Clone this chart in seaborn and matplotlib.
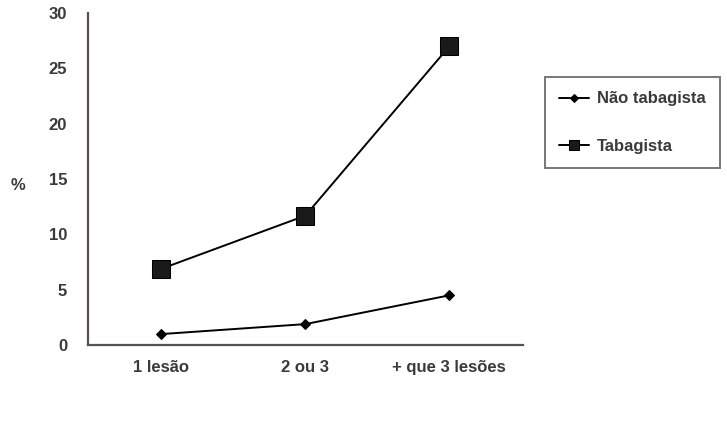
import matplotlib
matplotlib.use("Agg")
import matplotlib.pyplot as plt
import seaborn as sns
import pandas as pd

categories = ["1 lesão", "2 ou 3", "+ que 3 lesões"]
nao_tabagista = [1.0, 1.9, 4.5]
tabagista = [6.9, 11.7, 27.0]
y_ticks = [0, 5, 10, 15, 20, 25, 30]

sns.set_theme(style="white")
plt.rcParams['font.family'] = ['Liberation Sans', 'DejaVu Sans']

df_nt = pd.DataFrame({"x": range(len(categories)), "y": nao_tabagista})
df_t = pd.DataFrame({"x": range(len(categories)), "y": tabagista})

fig = plt.figure(figsize=(7.27, 4.24), dpi=100)
ax = fig.add_axes([0.121, 0.186, 0.598, 0.783])

sns.lineplot(data=df_nt, x="x", y="y", ax=ax, color="black", lw=1.4,
             marker="D", markersize=5, markeredgecolor="black", label="Não tabagista")
sns.lineplot(data=df_t, x="x", y="y", ax=ax, color="black", lw=1.4,
             marker="s", markersize=12.5, markeredgecolor="black", markerfacecolor="#1a1a1a",
             label="Tabagista")

FS = 12
FW = "bold"
TC = "#3a3a3a"
ax.set_xlim(-0.51, 2.51)
ax.set_ylim(0, 30)
ax.set_xticks(range(len(categories)))
ax.set_xticklabels(categories, fontweight=FW)
ax.set_yticks(y_ticks)
ax.set_yticklabels([str(v) for v in y_ticks], fontweight=FW)
ax.tick_params(axis='both', length=0, labelsize=FS, labelcolor=TC)
ax.tick_params(axis='y', pad=15)
ax.tick_params(axis='x', pad=11)
ax.set_xlabel("")
ax.set_ylabel("%", rotation=0, fontsize=FS, color=TC, va="center", ha="center",
              fontweight=FW)
ax.yaxis.set_label_coords(-0.161, 0.48)

for s in ["top", "right"]:
    ax.spines[s].set_visible(False)
for s in ["left", "bottom"]:
    ax.spines[s].set_color("#5a5050")
    ax.spines[s].set_linewidth(1.6)

leg = ax.legend(loc="upper left", bbox_to_anchor=(1.052, 0.807), frameon=True,
                fancybox=False, handlelength=1.8, borderpad=0.85,
                labelspacing=1.95, handletextpad=0.45, borderaxespad=0,
                prop={"size": FS, "weight": FW})
leg.get_frame().set_edgecolor("#555555")
leg.get_frame().set_linewidth(1.4)
for t in leg.get_texts():
    t.set_color(TC)
handles = leg.legend_handles
handles[0].set_markersize(4)
handles[1].set_markersize(7)

fig.savefig("out.png", dpi=100)
